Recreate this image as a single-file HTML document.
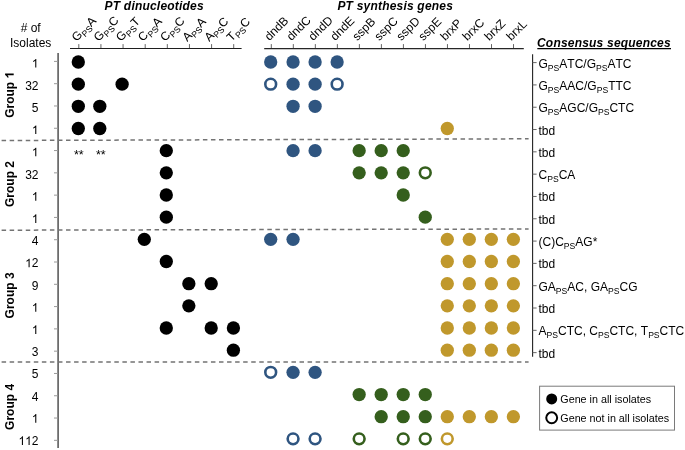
<!DOCTYPE html>
<html><head><meta charset="utf-8"><style>
html,body{margin:0;padding:0;background:#fff;}
body{width:685px;height:450px;position:relative;overflow:hidden;}
svg{position:absolute;left:0;top:0;will-change:transform;font-family:"Liberation Sans",sans-serif;font-size:12px;fill:#000;font-kerning:none;}
.bi{font-weight:bold;font-style:italic;letter-spacing:0.2px;}
.b{font-weight:bold;}
.lg{font-size:10.75px;}
.ast{font-size:12.5px;}
</style></head><body>
<svg width="685" height="450" viewBox="0 0 685 450">
<line x1="70" y1="48.45" x2="241.6" y2="48.45" stroke="#1e1e1e" stroke-width="1.1"/>
<line x1="78.80" y1="44.1" x2="78.80" y2="48" stroke="#555" stroke-width="0.9"/>
<line x1="100.93" y1="44.1" x2="100.93" y2="48" stroke="#555" stroke-width="0.9"/>
<line x1="123.06" y1="44.1" x2="123.06" y2="48" stroke="#555" stroke-width="0.9"/>
<line x1="145.19" y1="44.1" x2="145.19" y2="48" stroke="#555" stroke-width="0.9"/>
<line x1="167.32" y1="44.1" x2="167.32" y2="48" stroke="#555" stroke-width="0.9"/>
<line x1="189.45" y1="44.1" x2="189.45" y2="48" stroke="#555" stroke-width="0.9"/>
<line x1="211.58" y1="44.1" x2="211.58" y2="48" stroke="#555" stroke-width="0.9"/>
<line x1="233.71" y1="44.1" x2="233.71" y2="48" stroke="#555" stroke-width="0.9"/>
<line x1="264.2" y1="48.65" x2="523.8" y2="48.65" stroke="#262626" stroke-width="1.25"/>
<line x1="271.30" y1="44.1" x2="271.30" y2="48" stroke="#555" stroke-width="0.9"/>
<line x1="293.32" y1="44.1" x2="293.32" y2="48" stroke="#555" stroke-width="0.9"/>
<line x1="315.34" y1="44.1" x2="315.34" y2="48" stroke="#555" stroke-width="0.9"/>
<line x1="337.36" y1="44.1" x2="337.36" y2="48" stroke="#555" stroke-width="0.9"/>
<line x1="359.38" y1="44.1" x2="359.38" y2="48" stroke="#555" stroke-width="0.9"/>
<line x1="381.40" y1="44.1" x2="381.40" y2="48" stroke="#555" stroke-width="0.9"/>
<line x1="403.42" y1="44.1" x2="403.42" y2="48" stroke="#555" stroke-width="0.9"/>
<line x1="425.44" y1="44.1" x2="425.44" y2="48" stroke="#555" stroke-width="0.9"/>
<line x1="447.46" y1="44.1" x2="447.46" y2="48" stroke="#555" stroke-width="0.9"/>
<line x1="469.48" y1="44.1" x2="469.48" y2="48" stroke="#555" stroke-width="0.9"/>
<line x1="491.50" y1="44.1" x2="491.50" y2="48" stroke="#555" stroke-width="0.9"/>
<line x1="513.52" y1="44.1" x2="513.52" y2="48" stroke="#555" stroke-width="0.9"/>
<line x1="58.1" y1="53.1" x2="58.1" y2="448.1" stroke="#5c5c5c" stroke-width="1.6"/>
<line x1="54" y1="61.40" x2="58" y2="61.40" stroke="#999" stroke-width="1"/>
<line x1="54" y1="83.69" x2="58" y2="83.69" stroke="#999" stroke-width="1"/>
<line x1="54" y1="105.98" x2="58" y2="105.98" stroke="#999" stroke-width="1"/>
<line x1="54" y1="128.27" x2="58" y2="128.27" stroke="#999" stroke-width="1"/>
<line x1="54" y1="150.56" x2="58" y2="150.56" stroke="#999" stroke-width="1"/>
<line x1="54" y1="172.85" x2="58" y2="172.85" stroke="#999" stroke-width="1"/>
<line x1="54" y1="195.14" x2="58" y2="195.14" stroke="#999" stroke-width="1"/>
<line x1="54" y1="217.43" x2="58" y2="217.43" stroke="#999" stroke-width="1"/>
<line x1="54" y1="239.72" x2="58" y2="239.72" stroke="#999" stroke-width="1"/>
<line x1="54" y1="262.01" x2="58" y2="262.01" stroke="#999" stroke-width="1"/>
<line x1="54" y1="284.30" x2="58" y2="284.30" stroke="#999" stroke-width="1"/>
<line x1="54" y1="306.59" x2="58" y2="306.59" stroke="#999" stroke-width="1"/>
<line x1="54" y1="328.88" x2="58" y2="328.88" stroke="#999" stroke-width="1"/>
<line x1="54" y1="351.17" x2="58" y2="351.17" stroke="#999" stroke-width="1"/>
<line x1="54" y1="373.46" x2="58" y2="373.46" stroke="#999" stroke-width="1"/>
<line x1="54" y1="395.75" x2="58" y2="395.75" stroke="#999" stroke-width="1"/>
<line x1="54" y1="418.04" x2="58" y2="418.04" stroke="#999" stroke-width="1"/>
<line x1="54" y1="440.33" x2="58" y2="440.33" stroke="#999" stroke-width="1"/>
<line x1="532.6" y1="54.2" x2="532.6" y2="356.8" stroke="#222" stroke-width="1.1"/>
<line x1="532.6" y1="62.60" x2="536.6" y2="62.60" stroke="#666" stroke-width="1"/>
<line x1="532.6" y1="84.91" x2="536.6" y2="84.91" stroke="#666" stroke-width="1"/>
<line x1="532.6" y1="107.22" x2="536.6" y2="107.22" stroke="#666" stroke-width="1"/>
<line x1="532.6" y1="129.53" x2="536.6" y2="129.53" stroke="#666" stroke-width="1"/>
<line x1="532.6" y1="151.84" x2="536.6" y2="151.84" stroke="#666" stroke-width="1"/>
<line x1="532.6" y1="174.15" x2="536.6" y2="174.15" stroke="#666" stroke-width="1"/>
<line x1="532.6" y1="196.46" x2="536.6" y2="196.46" stroke="#666" stroke-width="1"/>
<line x1="532.6" y1="218.77" x2="536.6" y2="218.77" stroke="#666" stroke-width="1"/>
<line x1="532.6" y1="241.08" x2="536.6" y2="241.08" stroke="#666" stroke-width="1"/>
<line x1="532.6" y1="263.39" x2="536.6" y2="263.39" stroke="#666" stroke-width="1"/>
<line x1="532.6" y1="285.70" x2="536.6" y2="285.70" stroke="#666" stroke-width="1"/>
<line x1="532.6" y1="308.01" x2="536.6" y2="308.01" stroke="#666" stroke-width="1"/>
<line x1="532.6" y1="330.32" x2="536.6" y2="330.32" stroke="#666" stroke-width="1"/>
<line x1="532.6" y1="352.63" x2="536.6" y2="352.63" stroke="#666" stroke-width="1"/>
<line x1="1.6" y1="140.5" x2="528.6" y2="138.8" stroke="#737373" stroke-width="1.5" stroke-dasharray="4.5 3.552"/>
<line x1="1.6" y1="230.2" x2="528.6" y2="229.0" stroke="#737373" stroke-width="1.5" stroke-dasharray="4.5 3.552"/>
<line x1="1.6" y1="361.9" x2="528.6" y2="362.0" stroke="#737373" stroke-width="1.5" stroke-dasharray="4.5 3.552"/>
<circle cx="78.30" cy="61.98" r="6.65" fill="#000"/>
<circle cx="78.30" cy="84.15" r="6.65" fill="#000"/>
<circle cx="122.10" cy="84.15" r="6.65" fill="#000"/>
<circle cx="78.30" cy="106.32" r="6.65" fill="#000"/>
<circle cx="99.80" cy="106.32" r="6.65" fill="#000"/>
<circle cx="78.30" cy="128.49" r="6.65" fill="#000"/>
<circle cx="99.80" cy="128.49" r="6.65" fill="#000"/>
<circle cx="166.30" cy="150.66" r="6.65" fill="#000"/>
<circle cx="166.30" cy="172.83" r="6.65" fill="#000"/>
<circle cx="166.30" cy="195.00" r="6.65" fill="#000"/>
<circle cx="166.30" cy="217.17" r="6.65" fill="#000"/>
<circle cx="144.30" cy="239.34" r="6.65" fill="#000"/>
<circle cx="166.30" cy="261.51" r="6.65" fill="#000"/>
<circle cx="188.85" cy="283.68" r="6.65" fill="#000"/>
<circle cx="211.20" cy="283.68" r="6.65" fill="#000"/>
<circle cx="188.85" cy="305.85" r="6.65" fill="#000"/>
<circle cx="166.30" cy="328.02" r="6.65" fill="#000"/>
<circle cx="211.20" cy="328.02" r="6.65" fill="#000"/>
<circle cx="233.40" cy="328.02" r="6.65" fill="#000"/>
<circle cx="233.40" cy="350.19" r="6.65" fill="#000"/>
<circle cx="270.70" cy="61.98" r="6.65" fill="#2f5580"/>
<circle cx="293.07" cy="61.98" r="6.65" fill="#2f5580"/>
<circle cx="315.10" cy="61.98" r="6.65" fill="#2f5580"/>
<circle cx="337.13" cy="61.98" r="6.65" fill="#2f5580"/>
<circle cx="270.70" cy="84.15" r="5.4" fill="none" stroke="#2f5580" stroke-width="2.6"/>
<circle cx="337.13" cy="84.15" r="5.4" fill="none" stroke="#2f5580" stroke-width="2.6"/>
<circle cx="293.07" cy="84.15" r="6.65" fill="#2f5580"/>
<circle cx="315.10" cy="84.15" r="6.65" fill="#2f5580"/>
<circle cx="293.07" cy="106.32" r="6.65" fill="#2f5580"/>
<circle cx="315.10" cy="106.32" r="6.65" fill="#2f5580"/>
<circle cx="447.28" cy="128.49" r="6.65" fill="#c0982c"/>
<circle cx="293.07" cy="150.66" r="6.65" fill="#2f5580"/>
<circle cx="315.10" cy="150.66" r="6.65" fill="#2f5580"/>
<circle cx="359.16" cy="150.66" r="6.65" fill="#355f1d"/>
<circle cx="381.19" cy="150.66" r="6.65" fill="#355f1d"/>
<circle cx="403.22" cy="150.66" r="6.65" fill="#355f1d"/>
<circle cx="359.16" cy="172.83" r="6.65" fill="#355f1d"/>
<circle cx="381.19" cy="172.83" r="6.65" fill="#355f1d"/>
<circle cx="403.22" cy="172.83" r="6.65" fill="#355f1d"/>
<circle cx="425.25" cy="172.83" r="5.4" fill="none" stroke="#355f1d" stroke-width="2.6"/>
<circle cx="403.22" cy="195.00" r="6.65" fill="#355f1d"/>
<circle cx="425.25" cy="217.17" r="6.65" fill="#355f1d"/>
<circle cx="270.70" cy="239.34" r="6.65" fill="#2f5580"/>
<circle cx="293.07" cy="239.34" r="6.65" fill="#2f5580"/>
<circle cx="447.28" cy="239.34" r="6.65" fill="#c0982c"/>
<circle cx="469.31" cy="239.34" r="6.65" fill="#c0982c"/>
<circle cx="491.34" cy="239.34" r="6.65" fill="#c0982c"/>
<circle cx="513.37" cy="239.34" r="6.65" fill="#c0982c"/>
<circle cx="447.28" cy="261.51" r="6.65" fill="#c0982c"/>
<circle cx="469.31" cy="261.51" r="6.65" fill="#c0982c"/>
<circle cx="491.34" cy="261.51" r="6.65" fill="#c0982c"/>
<circle cx="513.37" cy="261.51" r="6.65" fill="#c0982c"/>
<circle cx="447.28" cy="283.68" r="6.65" fill="#c0982c"/>
<circle cx="469.31" cy="283.68" r="6.65" fill="#c0982c"/>
<circle cx="491.34" cy="283.68" r="6.65" fill="#c0982c"/>
<circle cx="513.37" cy="283.68" r="6.65" fill="#c0982c"/>
<circle cx="447.28" cy="305.85" r="6.65" fill="#c0982c"/>
<circle cx="469.31" cy="305.85" r="6.65" fill="#c0982c"/>
<circle cx="491.34" cy="305.85" r="6.65" fill="#c0982c"/>
<circle cx="513.37" cy="305.85" r="6.65" fill="#c0982c"/>
<circle cx="447.28" cy="328.02" r="6.65" fill="#c0982c"/>
<circle cx="469.31" cy="328.02" r="6.65" fill="#c0982c"/>
<circle cx="491.34" cy="328.02" r="6.65" fill="#c0982c"/>
<circle cx="513.37" cy="328.02" r="6.65" fill="#c0982c"/>
<circle cx="447.28" cy="350.19" r="6.65" fill="#c0982c"/>
<circle cx="469.31" cy="350.19" r="6.65" fill="#c0982c"/>
<circle cx="491.34" cy="350.19" r="6.65" fill="#c0982c"/>
<circle cx="513.37" cy="350.19" r="6.65" fill="#c0982c"/>
<circle cx="270.70" cy="372.36" r="5.4" fill="none" stroke="#2f5580" stroke-width="2.6"/>
<circle cx="293.07" cy="372.36" r="6.65" fill="#2f5580"/>
<circle cx="315.10" cy="372.36" r="6.65" fill="#2f5580"/>
<circle cx="359.16" cy="394.53" r="6.65" fill="#355f1d"/>
<circle cx="381.19" cy="394.53" r="6.65" fill="#355f1d"/>
<circle cx="403.22" cy="394.53" r="6.65" fill="#355f1d"/>
<circle cx="425.25" cy="394.53" r="6.65" fill="#355f1d"/>
<circle cx="381.19" cy="416.70" r="6.65" fill="#355f1d"/>
<circle cx="403.22" cy="416.70" r="6.65" fill="#355f1d"/>
<circle cx="425.25" cy="416.70" r="6.65" fill="#355f1d"/>
<circle cx="447.28" cy="416.70" r="6.65" fill="#c0982c"/>
<circle cx="469.31" cy="416.70" r="6.65" fill="#c0982c"/>
<circle cx="491.34" cy="416.70" r="6.65" fill="#c0982c"/>
<circle cx="513.37" cy="416.70" r="6.65" fill="#c0982c"/>
<circle cx="293.07" cy="438.87" r="5.4" fill="none" stroke="#2f5580" stroke-width="2.6"/>
<circle cx="315.10" cy="438.87" r="5.4" fill="none" stroke="#2f5580" stroke-width="2.6"/>
<circle cx="359.16" cy="438.87" r="5.4" fill="none" stroke="#355f1d" stroke-width="2.6"/>
<circle cx="403.22" cy="438.87" r="5.4" fill="none" stroke="#355f1d" stroke-width="2.6"/>
<circle cx="425.25" cy="438.87" r="5.4" fill="none" stroke="#355f1d" stroke-width="2.6"/>
<circle cx="447.28" cy="438.87" r="5.4" fill="none" stroke="#c0982c" stroke-width="2.6"/>
<rect x="539.6" y="386.2" width="134.9" height="43.9" fill="#fff" stroke="#7a7a7a" stroke-width="1"/>
<circle cx="551.7" cy="398.9" r="5.5" fill="#000"/>
<circle cx="551.7" cy="417.8" r="5.45" fill="none" stroke="#000" stroke-width="2"/>
<line x1="537.3" y1="48.6" x2="671" y2="48.6" stroke="#000" stroke-width="1.4"/>
<text x="104.60" y="9.80" class="bi" >PT dinucleotides</text>
<text x="337.40" y="9.90" class="bi" >PT synthesis genes</text>
<text x="537.00" y="47.20" class="bi" >Consensus sequences</text>
<text x="30.65" y="32.30" class=""  text-anchor="middle"># of</text>
<text x="30.65" y="47.00" class=""  text-anchor="middle">Isolates</text>
<path transform="translate(31.83 67.50) scale(0.005859 -0.005859)" d="M 763 0 L 583 0 L 583 1147 Q 518 1085 412.5 1023 Q 307 961 223 930 L 223 1104 Q 374 1175 487 1276 Q 600 1377 647 1472 L 763 1472 Z"/>
<text x="25.15" y="89.70" class="" >3</text>
<text x="31.83" y="89.70" class="" >2</text>
<text x="31.83" y="111.90" class="" >5</text>
<path transform="translate(31.83 134.10) scale(0.005859 -0.005859)" d="M 763 0 L 583 0 L 583 1147 Q 518 1085 412.5 1023 Q 307 961 223 930 L 223 1104 Q 374 1175 487 1276 Q 600 1377 647 1472 L 763 1472 Z"/>
<path transform="translate(31.83 156.30) scale(0.005859 -0.005859)" d="M 763 0 L 583 0 L 583 1147 Q 518 1085 412.5 1023 Q 307 961 223 930 L 223 1104 Q 374 1175 487 1276 Q 600 1377 647 1472 L 763 1472 Z"/>
<text x="25.15" y="178.50" class="" >3</text>
<text x="31.83" y="178.50" class="" >2</text>
<path transform="translate(31.83 200.70) scale(0.005859 -0.005859)" d="M 763 0 L 583 0 L 583 1147 Q 518 1085 412.5 1023 Q 307 961 223 930 L 223 1104 Q 374 1175 487 1276 Q 600 1377 647 1472 L 763 1472 Z"/>
<path transform="translate(31.83 222.90) scale(0.005859 -0.005859)" d="M 763 0 L 583 0 L 583 1147 Q 518 1085 412.5 1023 Q 307 961 223 930 L 223 1104 Q 374 1175 487 1276 Q 600 1377 647 1472 L 763 1472 Z"/>
<text x="31.83" y="245.10" class="" >4</text>
<path transform="translate(25.15 267.30) scale(0.005859 -0.005859)" d="M 763 0 L 583 0 L 583 1147 Q 518 1085 412.5 1023 Q 307 961 223 930 L 223 1104 Q 374 1175 487 1276 Q 600 1377 647 1472 L 763 1472 Z"/>
<text x="31.83" y="267.30" class="" >2</text>
<text x="31.83" y="289.50" class="" >9</text>
<path transform="translate(31.83 311.70) scale(0.005859 -0.005859)" d="M 763 0 L 583 0 L 583 1147 Q 518 1085 412.5 1023 Q 307 961 223 930 L 223 1104 Q 374 1175 487 1276 Q 600 1377 647 1472 L 763 1472 Z"/>
<path transform="translate(31.83 333.90) scale(0.005859 -0.005859)" d="M 763 0 L 583 0 L 583 1147 Q 518 1085 412.5 1023 Q 307 961 223 930 L 223 1104 Q 374 1175 487 1276 Q 600 1377 647 1472 L 763 1472 Z"/>
<text x="31.83" y="356.10" class="" >3</text>
<text x="31.83" y="378.30" class="" >5</text>
<text x="31.83" y="400.50" class="" >4</text>
<path transform="translate(31.83 422.70) scale(0.005859 -0.005859)" d="M 763 0 L 583 0 L 583 1147 Q 518 1085 412.5 1023 Q 307 961 223 930 L 223 1104 Q 374 1175 487 1276 Q 600 1377 647 1472 L 763 1472 Z"/>
<path transform="translate(18.48 444.90) scale(0.005859 -0.005859)" d="M 763 0 L 583 0 L 583 1147 Q 518 1085 412.5 1023 Q 307 961 223 930 L 223 1104 Q 374 1175 487 1276 Q 600 1377 647 1472 L 763 1472 Z"/>
<path transform="translate(25.15 444.90) scale(0.005859 -0.005859)" d="M 763 0 L 583 0 L 583 1147 Q 518 1085 412.5 1023 Q 307 961 223 930 L 223 1104 Q 374 1175 487 1276 Q 600 1377 647 1472 L 763 1472 Z"/>
<text x="31.83" y="444.90" class="" >2</text>
<g transform="translate(13.7 94.84) rotate(-90)">
<text x="-23.00" y="0.00" class="b" >Group</text>
<path transform="translate(16.34 0) scale(0.005859 -0.005859)" d="M 834 0 L 553 0 L 553 1059 Q 399 915 190 846 L 190 1101 Q 300 1137 429 1237 Q 558 1337 606 1472 L 834 1472 Z"/>
</g>
<g transform="translate(13.7 184.00) rotate(-90)">
<text x="0.00" y="0.00" class="b"  text-anchor="middle">Group 2</text>
</g>
<g transform="translate(13.7 295.44) rotate(-90)">
<text x="0.00" y="0.00" class="b"  text-anchor="middle">Group 3</text>
</g>
<g transform="translate(13.7 406.89) rotate(-90)">
<text x="0.00" y="0.00" class="b"  text-anchor="middle">Group 4</text>
</g>
<text x="538.50" y="67.60" class="" >G<tspan font-size="8.6" dy="3">PS</tspan><tspan dy="-3">ATC/G</tspan><tspan font-size="8.6" dy="3">PS</tspan><tspan dy="-3">ATC</tspan></text>
<text x="538.50" y="89.91" class="" >G<tspan font-size="8.6" dy="3">PS</tspan><tspan dy="-3">AAC/G</tspan><tspan font-size="8.6" dy="3">PS</tspan><tspan dy="-3">TTC</tspan></text>
<text x="538.50" y="112.22" class="" >G<tspan font-size="8.6" dy="3">PS</tspan><tspan dy="-3">AGC/G</tspan><tspan font-size="8.6" dy="3">PS</tspan><tspan dy="-3">CTC</tspan></text>
<text x="538.50" y="134.53" class="" >tbd</text>
<text x="538.50" y="156.84" class="" >tbd</text>
<text x="538.50" y="179.15" class="" >C<tspan font-size="8.6" dy="3">PS</tspan><tspan dy="-3">CA</tspan></text>
<text x="538.50" y="201.46" class="" >tbd</text>
<text x="538.50" y="223.77" class="" >tbd</text>
<text x="538.50" y="246.08" class="" >(C)C<tspan font-size="8.6" dy="3">PS</tspan><tspan dy="-3">AG*</tspan></text>
<text x="538.50" y="268.39" class="" >tbd</text>
<text x="538.50" y="290.70" class="" >GA<tspan font-size="8.6" dy="3">PS</tspan><tspan dy="-3">AC, GA</tspan><tspan font-size="8.6" dy="3">PS</tspan><tspan dy="-3">CG</tspan></text>
<text x="538.50" y="313.01" class="" >tbd</text>
<text x="538.50" y="335.32" class="" >A<tspan font-size="8.6" dy="3">PS</tspan><tspan dy="-3">CTC, C</tspan><tspan font-size="8.6" dy="3">PS</tspan><tspan dy="-3">CTC, T</tspan><tspan font-size="8.6" dy="3">PS</tspan><tspan dy="-3">CTC</tspan></text>
<text x="538.50" y="357.63" class="" >tbd</text>
<text x="73.90" y="158.60" class="ast" >**</text>
<text x="96.00" y="158.60" class="ast" >**</text>
<text x="560.30" y="402.60" class="lg" >Gene in all isolates</text>
<text x="560.30" y="421.50" class="lg" >Gene not in all isolates</text>
<text x="76.50" y="41.90" class=""  transform="rotate(-45 76.50 41.90)">G<tspan font-size="8.6" dy="3">PS</tspan><tspan dy="-3">A</tspan></text>
<text x="98.63" y="41.90" class=""  transform="rotate(-45 98.63 41.90)">G<tspan font-size="8.6" dy="3">PS</tspan><tspan dy="-3">C</tspan></text>
<text x="120.76" y="41.90" class=""  transform="rotate(-45 120.76 41.90)">G<tspan font-size="8.6" dy="3">PS</tspan><tspan dy="-3">T</tspan></text>
<text x="142.89" y="41.90" class=""  transform="rotate(-45 142.89 41.90)">C<tspan font-size="8.6" dy="3">PS</tspan><tspan dy="-3">A</tspan></text>
<text x="165.02" y="41.90" class=""  transform="rotate(-45 165.02 41.90)">C<tspan font-size="8.6" dy="3">PS</tspan><tspan dy="-3">C</tspan></text>
<text x="187.15" y="41.90" class=""  transform="rotate(-45 187.15 41.90)">A<tspan font-size="8.6" dy="3">PS</tspan><tspan dy="-3">A</tspan></text>
<text x="209.28" y="41.90" class=""  transform="rotate(-45 209.28 41.90)">A<tspan font-size="8.6" dy="3">PS</tspan><tspan dy="-3">C</tspan></text>
<text x="231.41" y="41.90" class=""  transform="rotate(-45 231.41 41.90)">T<tspan font-size="8.6" dy="3">PS</tspan><tspan dy="-3">C</tspan></text>
<text x="269.40" y="41.30" class=""  transform="rotate(-45 269.40 41.30)">dndB</text>
<text x="291.39" y="41.30" class=""  transform="rotate(-45 291.39 41.30)">dndC</text>
<text x="313.38" y="41.30" class=""  transform="rotate(-45 313.38 41.30)">dndD</text>
<text x="335.37" y="41.30" class=""  transform="rotate(-45 335.37 41.30)">dndE</text>
<text x="357.36" y="41.30" class=""  transform="rotate(-45 357.36 41.30)">sspB</text>
<text x="379.35" y="41.30" class=""  transform="rotate(-45 379.35 41.30)">sspC</text>
<text x="401.34" y="41.30" class=""  transform="rotate(-45 401.34 41.30)">sspD</text>
<text x="423.33" y="41.30" class=""  transform="rotate(-45 423.33 41.30)">sspE</text>
<text x="445.32" y="41.30" class=""  transform="rotate(-45 445.32 41.30)">brxP</text>
<text x="467.31" y="41.30" class=""  transform="rotate(-45 467.31 41.30)">brxC</text>
<text x="489.30" y="41.30" class=""  transform="rotate(-45 489.30 41.30)">brxZ</text>
<text x="511.29" y="41.30" class=""  transform="rotate(-45 511.29 41.30)">brxL</text>
</svg>
</body></html>
